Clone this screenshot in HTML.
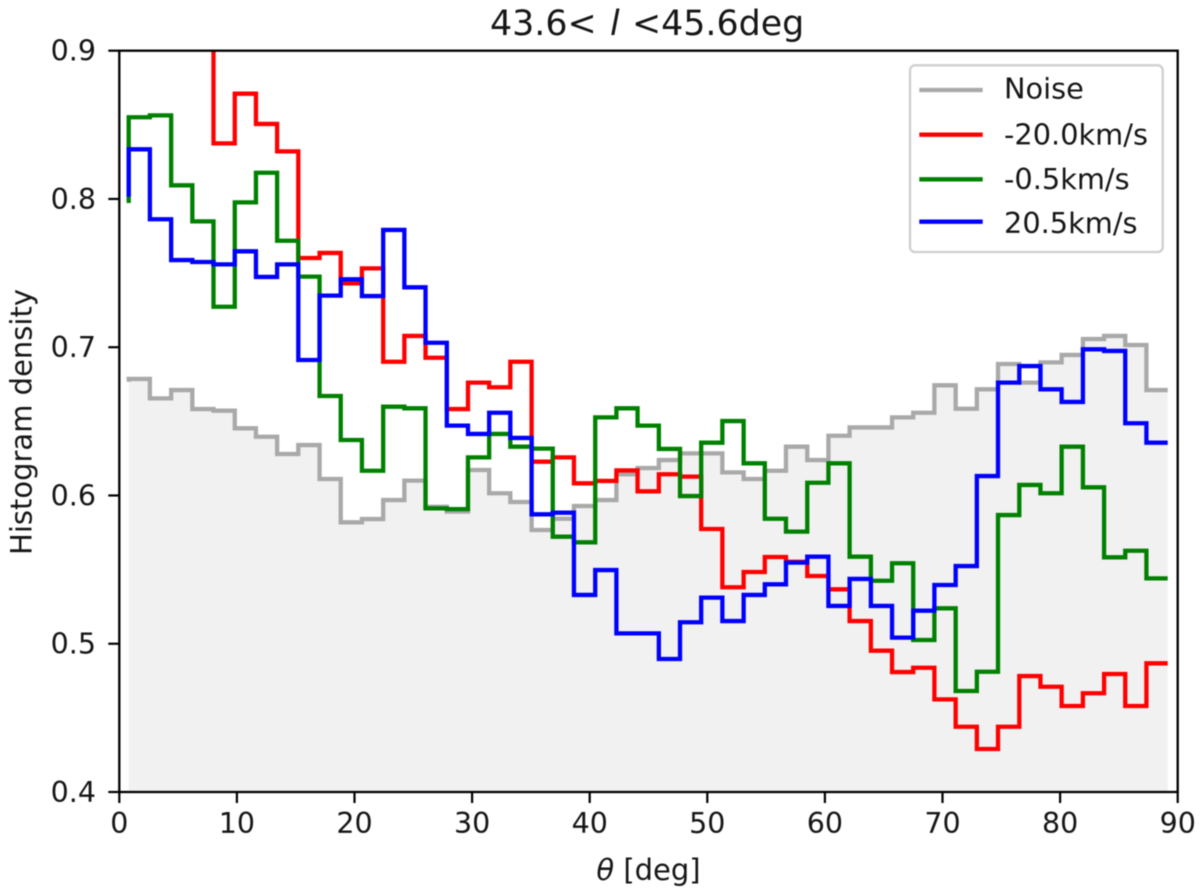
<!DOCTYPE html>
<html>
<head>
<meta charset="utf-8">
<title>Histogram density</title>
<style>
html,body{margin:0;padding:0;background:#fff;width:1200px;height:896px;overflow:hidden}
svg{display:block;filter:blur(0.55px)}
text{font-family:"DejaVu Sans","Liberation Sans",sans-serif;fill:#161616}
</style>
</head>
<body>
<svg id="chart" xmlns="http://www.w3.org/2000/svg" width="1200" height="896" viewBox="0 0 1200 896">
  <defs><clipPath id="axes-clip"><rect x="119.3" y="50.7" width="1058.4" height="741.3"/></clipPath></defs>
  <rect x="0" y="0" width="1200" height="896" fill="#fff"/>
  <g id="series" clip-path="url(#axes-clip)"></g>
  <g id="ticks"></g>
  <rect x="119.3" y="50.7" width="1058.4" height="741.3" fill="none" stroke="#000" stroke-width="2.3"/>
  <text font-size="34.8" y="35"><tspan x="490">43.6&lt;</tspan><tspan x="610" font-style="italic">l</tspan><tspan x="632">&lt;45.6deg</tspan></text>
  <text font-size="29" x="648.5" y="880" text-anchor="middle"><tspan font-style="italic">θ</tspan> [deg]</text>
  <text font-size="29" text-anchor="middle" transform="translate(31.5,422) rotate(-90)">Histogram density</text>
  <g>
    <rect x="910" y="65.3" width="252.7" height="186.7" rx="5" fill="#fff" stroke="#cfcfcf" stroke-width="2.3"/>
    <line x1="919.3" x2="982.7" y1="90" y2="90" stroke="#a9a9a9" stroke-width="4.3"/>
    <text font-size="28.8" x="1004" y="98.5">Noise</text>
    <line x1="919.3" x2="982.7" y1="134.7" y2="134.7" stroke="#ff0000" stroke-width="4.3"/>
    <text font-size="28.8" x="1004" y="144.5">-20.0km/s</text>
    <line x1="919.3" x2="982.7" y1="179.3" y2="179.3" stroke="#008000" stroke-width="4.3"/>
    <text font-size="28.8" x="1004" y="189">-0.5km/s</text>
    <line x1="919.3" x2="982.7" y1="221.7" y2="221.7" stroke="#0000ff" stroke-width="4.3"/>
    <text font-size="28.8" x="1004" y="233">20.5km/s</text>
  </g>
</svg>
<script>
var thetaBins = [0.80,2.60,4.41,6.21,8.01,9.82,11.62,13.42,15.22,17.03,18.83,20.63,22.44,24.24,26.04,27.85,29.65,31.45,33.25,35.06,36.86,38.66,40.47,42.27,44.07,45.88,47.68,49.48,51.28,53.09,54.89,56.69,58.50,60.30,62.10,63.91,65.71,67.51,69.31,71.12,72.92,74.72,76.53,78.33,80.13,81.94,83.74,85.54,87.34,89.15];
var noiseValues = [0.6767,0.6786,0.6655,0.6711,0.6583,0.6572,0.6453,0.6396,0.6280,0.6340,0.6111,0.5819,0.5841,0.5969,0.6100,0.5924,0.5891,0.6172,0.6015,0.5956,0.5767,0.5843,0.5929,0.5969,0.6143,0.6185,0.6239,0.6284,0.6284,0.6156,0.6111,0.6167,0.6329,0.6239,0.6403,0.6459,0.6459,0.6527,0.6558,0.6743,0.6585,0.6716,0.6887,0.6761,0.6898,0.6948,0.7055,0.7076,0.7015,0.6711];
var redValues = [1.02,0.99,0.97,0.95,0.93,0.8375,0.8710,0.8506,0.8321,0.7602,0.7636,0.7431,0.7532,0.6902,0.7076,0.6929,0.6583,0.6761,0.6730,0.6902,0.6228,0.6257,0.6082,0.6098,0.6169,0.6028,0.6143,0.6127,0.5774,0.5381,0.5484,0.5585,0.5553,0.5457,0.5367,0.5153,0.4953,0.4809,0.4838,0.4625,0.4440,0.4290,0.4440,0.4782,0.4710,0.4580,0.4666,0.4796,0.4580,0.4868];
var greenValues = [0.7973,0.8551,0.8564,0.8092,0.7849,0.7273,0.7977,0.8177,0.7718,0.7476,0.6671,0.6374,0.6167,0.6599,0.6588,0.5913,0.5908,0.6257,0.6415,0.6329,0.6316,0.5722,0.5684,0.6527,0.6588,0.6471,0.6314,0.5996,0.6356,0.6502,0.6217,0.5843,0.5756,0.6086,0.6217,0.5587,0.5425,0.5543,0.5025,0.5239,0.4681,0.4811,0.5868,0.6071,0.6015,0.6329,0.6055,0.5583,0.5627,0.5441];
var blueValues = [0.8015,0.8335,0.7863,0.7588,0.7575,0.7559,0.7647,0.7474,0.7559,0.6914,0.7348,0.7458,0.7345,0.7791,0.7404,0.7030,0.6471,0.6415,0.6558,0.6388,0.5873,0.5884,0.5329,0.5497,0.5070,0.5070,0.4897,0.5145,0.5311,0.5153,0.5329,0.5401,0.5547,0.5587,0.5255,0.5437,0.5255,0.5041,0.5223,0.5396,0.5524,0.6131,0.6761,0.6873,0.6716,0.6631,0.6986,0.6975,0.6487,0.6356];
var xTickValues = [0,10,20,30,40,50,60,70,80,90];
var yTickValues = [0.4,0.5,0.6,0.7,0.8,0.9];
var xTickLabels = ["0","10","20","30","40","50","60","70","80","90"];
var yTickLabels = ["0.4","0.5","0.6","0.7","0.8","0.9"];

var NS = 'http://www.w3.org/2000/svg';
var plotLeft = 119.3, plotRight = 1177.7, plotTop = 50.7, plotBottom = 792;
function xScale(v){ return plotLeft + (v - 0) / 90 * (plotRight - plotLeft); }
function yScale(v){ return plotBottom - (v - 0.4) / 0.5 * (plotBottom - plotTop); }
function stepPath(xs, ys){
  var d = 'M' + xScale(xs[0]).toFixed(2) + ' ' + yScale(ys[0]).toFixed(2);
  for (var i = 1; i < xs.length; i++){
    d += 'V' + yScale(ys[i]).toFixed(2) + 'H' + xScale(xs[i]).toFixed(2);
  }
  return d;
}
var seriesGroup = document.getElementById('series');
var tickGroup = document.getElementById('ticks');

var noiseFill = document.createElementNS(NS, 'path');


noiseFill.setAttribute('d', stepPath(thetaBins, noiseValues) + 'V' + plotBottom + 'H' + xScale(thetaBins[0]).toFixed(2) + 'Z');
noiseFill.setAttribute('fill', '#f1f1f1');
seriesGroup.appendChild(noiseFill);

var noiseLine = document.createElementNS(NS, 'path');


noiseLine.setAttribute('d', stepPath(thetaBins, noiseValues));
noiseLine.setAttribute('fill', 'none');
noiseLine.setAttribute('stroke', '#a9a9a9');
noiseLine.setAttribute('stroke-width', '4.3');
seriesGroup.appendChild(noiseLine);

var redLine = document.createElementNS(NS, 'path');


redLine.setAttribute('d', stepPath(thetaBins, redValues));
redLine.setAttribute('fill', 'none');
redLine.setAttribute('stroke', '#ff0000');
redLine.setAttribute('stroke-width', '4.3');
seriesGroup.appendChild(redLine);

var greenLine = document.createElementNS(NS, 'path');


greenLine.setAttribute('d', stepPath(thetaBins, greenValues));
greenLine.setAttribute('fill', 'none');
greenLine.setAttribute('stroke', '#008000');
greenLine.setAttribute('stroke-width', '4.3');
seriesGroup.appendChild(greenLine);

var blueLine = document.createElementNS(NS, 'path');


blueLine.setAttribute('d', stepPath(thetaBins, blueValues));
blueLine.setAttribute('fill', 'none');
blueLine.setAttribute('stroke', '#0000ff');
blueLine.setAttribute('stroke-width', '4.3');
seriesGroup.appendChild(blueLine);

xTickValues.forEach(function(v, i){
  var t = document.createElementNS(NS, 'line');
  
  
  t.setAttribute('x1', xScale(v));
  t.setAttribute('x2', xScale(v));
  t.setAttribute('y1', plotBottom);
  t.setAttribute('y2', plotBottom + 11);
  t.setAttribute('stroke', '#000');
  t.setAttribute('stroke-width', '2.2');
  tickGroup.appendChild(t);
  var l = document.createElementNS(NS, 'text');
  
  
  l.setAttribute('x', xScale(v));
  l.setAttribute('y', 833);
  l.setAttribute('text-anchor', 'middle');
  l.setAttribute('font-size', '28.5');
  l.textContent = xTickLabels[i];
  tickGroup.appendChild(l);
});
yTickValues.forEach(function(v, i){
  var t = document.createElementNS(NS, 'line');
  
  
  t.setAttribute('x1', plotLeft - 11);
  t.setAttribute('x2', plotLeft);
  t.setAttribute('y1', yScale(v));
  t.setAttribute('y2', yScale(v));
  t.setAttribute('stroke', '#000');
  t.setAttribute('stroke-width', '2.2');
  tickGroup.appendChild(t);
  var l = document.createElementNS(NS, 'text');
  
  
  l.setAttribute('x', 96);
  l.setAttribute('y', yScale(v) + 10);
  l.setAttribute('text-anchor', 'end');
  l.setAttribute('font-size', '28.5');
  l.textContent = yTickLabels[i];
  tickGroup.appendChild(l);
});
</script>
</body>
</html>
